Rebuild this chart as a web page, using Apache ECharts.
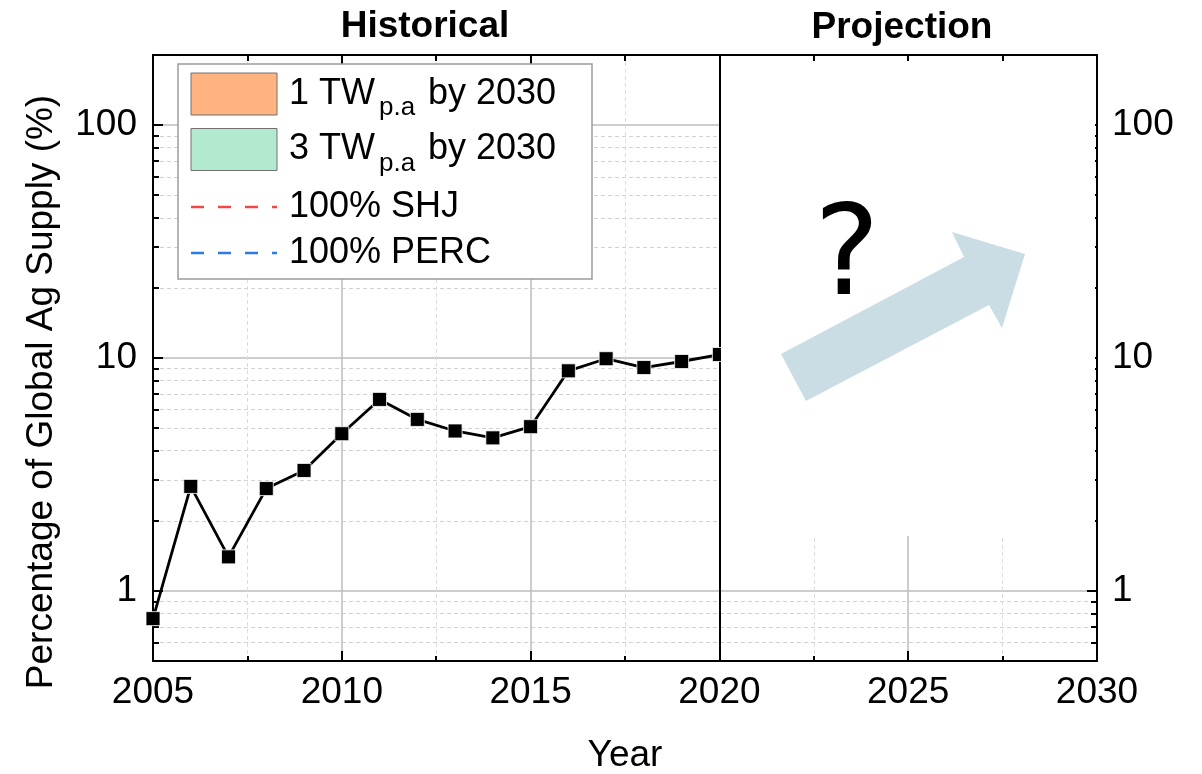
<!DOCTYPE html>
<html>
<head>
<meta charset="utf-8">
<script src="https://cdn.jsdelivr.net/npm/echarts@6/dist/echarts.min.js"></script>
<style>
  html, body { margin: 0; padding: 0; background: #fff; }
  #chart { width: 1202px; height: 774px; }
</style>
</head>
<body>
<div id="chart"></div>
<script>
// Share of the global silver (Ag) supply used by PV, by year
const years = [2005, 2006, 2007, 2008, 2009, 2010, 2011, 2012, 2013, 2014, 2015, 2016, 2017, 2018, 2019, 2020];
const agShare = [0.76, 2.81, 1.40, 2.75, 3.29, 4.73, 6.64, 5.45, 4.86, 4.54, 5.07, 8.81, 9.93, 9.10, 9.66, 10.35];

// Axis ranges
const xRange = [2005, 2030];
const xStep = 5;
const yRange = [0.5, 200];

// Panel headings and legend entries
const sectionTitles = ['Historical', 'Projection'];
const legendAreas = [
  { lead: '1 TW', sub: 'p.a', tail: 'by 2030', color: '#FFB380' },
  { lead: '3 TW', sub: 'p.a', tail: 'by 2030', color: '#B3EACF' }
];
const legendLines = [
  { label: '100% SHJ', color: '#F04848' },
  { label: '100% PERC', color: '#2C7BE0' }
];

const FONT = '"Liberation Sans", Arial, Helvetica, sans-serif';
const chart = echarts.init(document.getElementById('chart'), null, { renderer: 'canvas' });

const txt = (x, y, text, size, opts) => Object.assign({
  type: 'text', x: x, y: y, z: 20,
  style: Object.assign({
    text: text, fill: '#000', fontSize: size, fontFamily: FONT,
    textAlign: 'left', textVerticalAlign: 'middle'
  }, (opts && opts.style) || {})
}, (opts && opts.el) || {});

const graphics = [];

// Panel headings
graphics.push(txt(425, 27, sectionTitles[0], 37, { style: { fontWeight: 'bold', textAlign: 'center' } }));
graphics.push(txt(902, 28, sectionTitles[1], 37, { style: { fontWeight: 'bold', textAlign: 'center' } }));

// Y axis title (rotated)
graphics.push(txt(42, 392, 'Percentage of Global Ag Supply (%)', 37,
  { style: { textAlign: 'center' }, el: { rotation: Math.PI / 2 } }));

// Blank projection panel with the outlook arrow
graphics.push({ type: 'rect', z: 15, shape: { x: 721, y: 61, width: 374, height: 475 },
  style: { fill: '#fff' } });
graphics.push({ type: 'polygon', z: 16,
  shape: { points: [[781, 354], [964, 257], [952, 232], [1025, 254], [1002, 328], [989, 305], [806, 401]] },
  style: { fill: '#CADDE5' } });
graphics.push(txt(847, 262, '?', 124, { style: { textAlign: 'center', fontFamily: '"DejaVu Sans", sans-serif' } }));

// Legend box
graphics.push({ type: 'rect', z: 18, shape: { x: 178, y: 64, width: 414, height: 215 },
  style: { fill: '#fff', stroke: '#9c9c9c', lineWidth: 1.5 } });
legendAreas.forEach((it, i) => {
  const cy = 94 + i * 55.5;
  graphics.push({ type: 'rect', z: 19, shape: { x: 191, y: cy - 21, width: 86, height: 42 },
    style: { fill: it.color, stroke: '#707070', lineWidth: 1 } });
  graphics.push(txt(289, cy, it.lead, 36));
  graphics.push(txt(379, cy + 14, it.sub, 26));
  graphics.push(txt(428, cy, it.tail, 36));
});
legendLines.forEach((it, i) => {
  const cy = 207 + i * 46;
  graphics.push({ type: 'line', z: 19, shape: { x1: 191, y1: cy, x2: 277, y2: cy },
    style: { stroke: it.color, lineWidth: 2.5, lineDash: [13, 14] } });
  graphics.push(txt(289, cy, it.label, 36));
});

const frameLine = { show: true, onZero: false, lineStyle: { color: '#000', width: 2 } };
const labelStyle = { color: '#000', fontSize: 37, fontFamily: FONT };

chart.setOption({
  animation: false,
  backgroundColor: '#fff',
  grid: { left: 153, right: 105, top: 55, bottom: 113, containLabel: false, outerBoundsMode: 'none' },
  xAxis: [
    {
      type: 'value', min: xRange[0], max: xRange[1], interval: xStep, position: 'bottom',
      axisLine: frameLine,
      axisTick: { show: true, inside: true, length: 10, lineStyle: { color: '#000', width: 2 } },
      minorTick: { show: true, splitNumber: 2, length: 5, lineStyle: { color: '#000', width: 2 } },
      axisLabel: Object.assign({ margin: 13, formatter: v => String(v) }, labelStyle),
      splitLine: { show: true, lineStyle: { color: '#bdbdbd', width: 1.5 } },
      minorSplitLine: { show: true, lineStyle: { color: '#dcdcdc', width: 1, type: [4, 3] } },
      name: 'Year', nameLocation: 'middle', nameGap: 76,
      nameTextStyle: { color: '#000', fontSize: 37, fontFamily: FONT }
    },
    {
      type: 'value', min: xRange[0], max: xRange[1], interval: xStep, position: 'top',
      axisLine: frameLine,
      axisTick: { show: true, inside: true, length: 9, lineStyle: { color: '#000', width: 2 } },
      minorTick: { show: true, splitNumber: 2, length: 6, lineStyle: { color: '#000', width: 2 } },
      axisLabel: { show: false }, splitLine: { show: false }
    }
  ],
  yAxis: [
    {
      type: 'log', logBase: 10, min: yRange[0], max: yRange[1], position: 'left',
      axisLine: frameLine,
      axisTick: { show: true, inside: true, length: 10, lineStyle: { color: '#000', width: 2 } },
      minorTick: { show: true, splitNumber: 9, length: 6, lineStyle: { color: '#000', width: 2 } },
      axisLabel: Object.assign({ margin: 16, showMinLabel: false, showMaxLabel: false, formatter: v => String(v) }, labelStyle),
      splitLine: { show: true, lineStyle: { color: '#bdbdbd', width: 1.5 } },
      minorSplitLine: { show: true, lineStyle: { color: '#d2d2d2', width: 1, type: [4, 3] } }
    },
    {
      type: 'log', logBase: 10, min: yRange[0], max: yRange[1], position: 'right',
      axisLine: frameLine,
      axisTick: { show: true, inside: true, length: 10, lineStyle: { color: '#000', width: 2 } },
      minorTick: { show: true, splitNumber: 9, length: 6, lineStyle: { color: '#000', width: 2 } },
      axisLabel: Object.assign({ margin: 15, showMinLabel: false, showMaxLabel: false, formatter: v => String(v) }, labelStyle),
      splitLine: { show: false }
    }
  ],
  series: [
    {
      name: 'Ag share',
      type: 'line',
      xAxisIndex: 0, yAxisIndex: 0,
      data: years.map((y, i) => [y, agShare[i]]),
      symbol: 'rect', symbolSize: 14,
      itemStyle: { color: '#000', borderColor: '#fff', borderWidth: 0.8 },
      lineStyle: { color: '#000', width: 2.8 },
      emphasis: { disabled: true },
      z: 5,
      markLine: {
        silent: true, symbol: 'none', label: { show: false },
        lineStyle: { color: '#000', width: 2, type: 'solid' },
        data: [{ xAxis: 2020 }]
      }
    }
  ],
  graphic: { elements: graphics }
});
</script>
</body>
</html>
